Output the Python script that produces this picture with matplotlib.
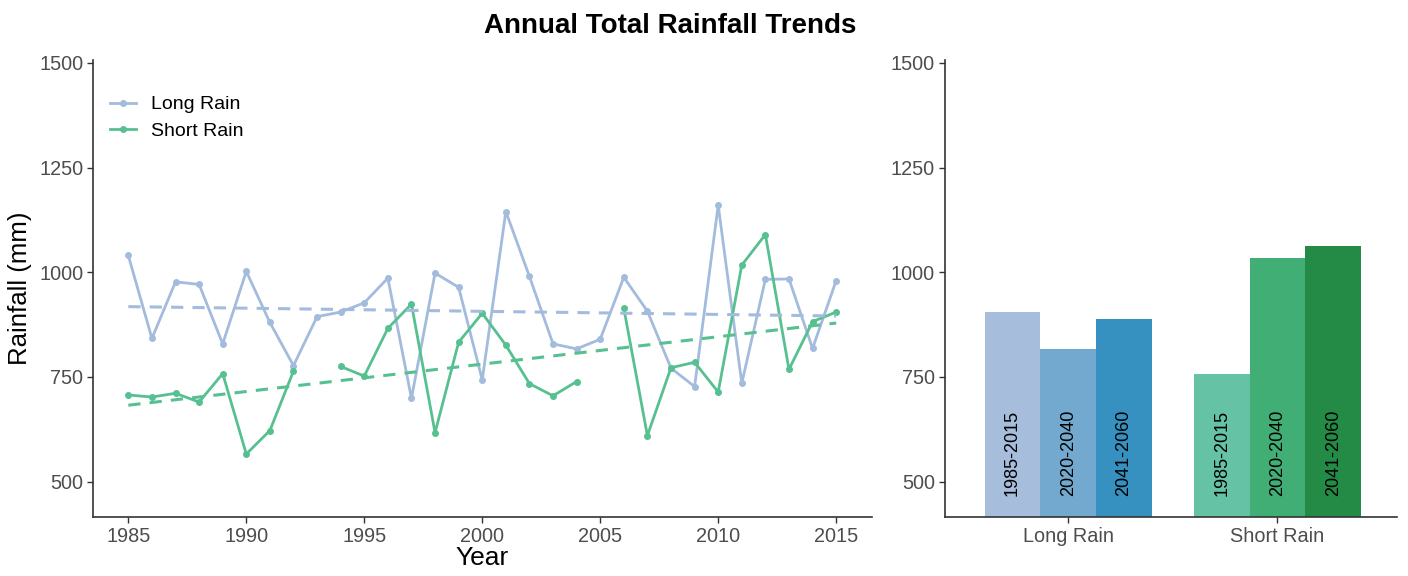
import numpy as np
import matplotlib
matplotlib.use('Agg')
import matplotlib.pyplot as plt

plt.rcParams['font.family'] = ['Liberation Sans', 'DejaVu Sans']

years = np.arange(1985, 2016)
long_rain = [1040, 842, 977, 971, 829, 1002, 880, 777, 894, 905,
             927, 986, 699, 998, 964, 743, 1145, 990, 829, 817,
             840, 988, 907, 771, 727, 1160, 735, 983, 984, 818, 980]
short_rain = [707, 702, 711, 690, 758, 566, 622, 764, np.nan, 775,
              752, 866, 924, 617, 833, 902, 826, 734, 705, 739,
              np.nan, 914, 610, 772, 785, 714, 1017, 1090, 768, 882, 905]

seasons = ['Long Rain', 'Short Rain']
periods = ['1985-2015', '2020-2040', '2041-2060']
long_means = [905, 817, 889]
short_means = [758, 1033, 1063]

long_col = '#a3bbdc'
short_col = '#57c091'
long_bar_cols = ['#a6bddb', '#74a9cf', '#3690c0']
short_bar_cols = ['#66c2a4', '#41ae76', '#238b45']
tick_col = '#4d4d4d'


def style_axes(ax):
    for s in ['top', 'right']:
        ax.spines[s].set_visible(False)
    for s in ['left', 'bottom']:
        ax.spines[s].set_color('#333333')
        ax.spines[s].set_linewidth(1.2)
    ax.tick_params(colors='#333333', labelcolor=tick_col, labelsize=14.3,
                   length=4, width=1, pad=3)
    ax.set_ylim(415, 1507)
    ax.set_yticks([500, 750, 1000, 1250, 1500])


fig = plt.figure(figsize=(14.08, 5.76), dpi=100)
fig.suptitle('Annual Total Rainfall Trends', fontsize=20, fontweight='bold',
             x=0.476, y=0.977)

ax1 = fig.add_axes([0.066, 0.102, 0.553, 0.794])
ax2 = fig.add_axes([0.671, 0.102, 0.321, 0.794])

x = years.astype(float)
ax1.plot(x, long_rain, color=long_col, lw=2, marker='o', ms=4, label='Long Rain')
ax1.plot(x, short_rain, color=short_col, lw=2, marker='o', ms=4, label='Short Rain')

# linear trend lines
for vals, col in [(long_rain, long_col), (short_rain, short_col)]:
    v = np.array(vals, dtype=float)
    ok = ~np.isnan(v)
    m, b = np.polyfit(x[ok], v[ok], 1)
    ax1.plot(x, m * x + b, color=col, lw=2.2, ls=(0, (4, 3)))

style_axes(ax1)
ax1.set_xlim(1983.5, 2016.5)
ax1.set_xticks([1985, 1990, 1995, 2000, 2005, 2010, 2015])
ax1.set_xlabel('Year', fontsize=19, labelpad=0)
ax1.set_ylabel('Rainfall (mm)', fontsize=18.5, labelpad=5)
ax1.legend(loc='upper left', frameon=False, fontsize=14, handlelength=1.3,
           handletextpad=0.8, bbox_to_anchor=(0.0, 0.96), labelspacing=0.45)

w = 0.266
offsets = [-w, 0, w]
for i, p in enumerate(periods):
    for j, (vals, cols) in enumerate([(long_means, long_bar_cols), (short_means, short_bar_cols)]):
        xp = j + 1 + offsets[i]
        ax2.bar(xp, vals[i], width=w, color=cols[i], bottom=0)
        ax2.text(xp, 465, p, rotation=90, ha='center', va='bottom', fontsize=13, color='black')

style_axes(ax2)
ax2.set_xlim(0.41, 2.57)
ax2.set_xticks([1, 2])
ax2.set_xticklabels(seasons)

fig.savefig('out.png', dpi=100)
